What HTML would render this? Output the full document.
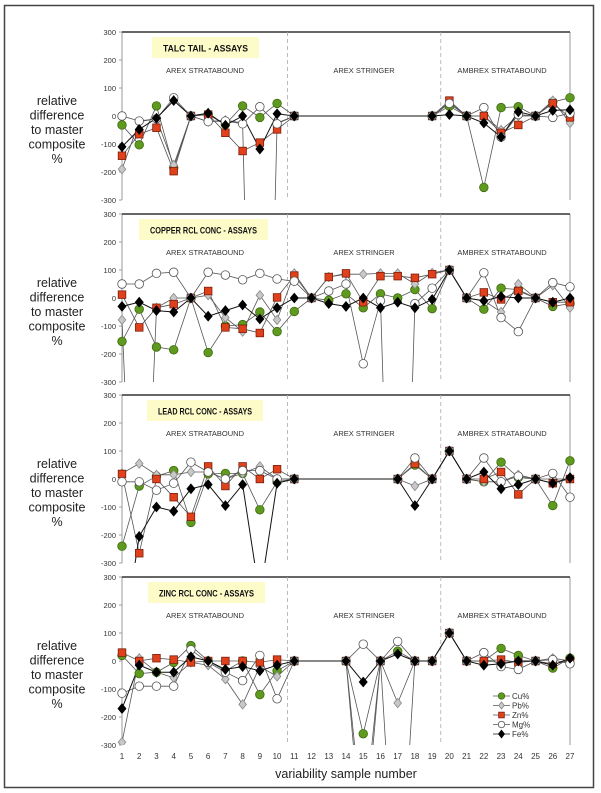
<!DOCTYPE html>
<html><head><meta charset="utf-8"><style>
html,body{margin:0;padding:0;background:#fff;width:601px;height:793px;overflow:hidden;font-family:"Liberation Sans",sans-serif}
svg{display:block;position:absolute;left:0;top:0}
</style></head><body>
<svg id="chart" width="601" height="793" viewBox="0 0 601 793" xmlns="http://www.w3.org/2000/svg" overflow="hidden">
<rect x="4.5" y="5.5" width="589" height="782" fill="#fff" stroke="#444" stroke-width="1.5"/>
</svg>
<script>
const xCats=[1,2,3,4,5,6,7,8,9,10,11,12,13,14,15,16,17,18,19,20,21,22,23,24,25,26,27];
const yTicks=[300,200,100,0,-100,-200,-300];
const seriesNames=["Cu%","Pb%","Zn%","Mg%","Fe%"];
const panelTitles=["TALC TAIL - ASSAYS","COPPER RCL CONC - ASSAYS","LEAD RCL CONC - ASSAYS","ZINC RCL CONC - ASSAYS"];
const regionLabels=["AREX STRATABOUND","AREX STRINGER","AMBREX STRATABOUND"];
const N=null;
// panel 1 talc tail
const p1Cu=[-32,-103,36,-185,0,5,-30,36,-5,45,0,N,N,N,N,N,N,N,0,35,0,-255,30,33,0,50,65];
const p1Pb=[-190,-20,-10,-175,0,-20,-15,-25,-2500,-25,0,N,N,N,N,N,N,N,0,50,0,0,-50,0,0,55,-25];
const p1Zn=[-142,-65,-42,-197,0,5,-60,-125,-95,-48,0,N,N,N,N,N,N,N,0,55,0,0,-60,-32,0,45,-5];
const p1Mg=[0,-18,-10,65,0,-20,-18,-28,33,-28,0,N,N,N,N,N,N,N,0,45,0,30,-75,5,0,-5,10];
const p1Fe=[-110,-48,-8,55,0,10,-33,0,-118,8,0,N,N,N,N,N,N,N,0,5,0,-25,-75,15,0,20,22];
// panel 2 copper conc
const p2Cu=[-155,-40,-175,-185,0,-195,-100,-95,-50,-120,-48,0,-8,15,-35,15,0,30,-38,100,0,-40,35,30,0,-30,-20];
const p2Pb=[-78,-1500,-35,0,0,10,-70,-120,10,-78,88,0,75,85,85,88,88,50,90,100,0,-10,-50,50,0,45,-35];
const p2Zn=[12,-105,-35,-22,0,25,-105,-110,-125,2,80,0,75,88,-15,78,78,72,85,100,0,20,-5,25,0,-15,-15];
const p2Mg=[50,50,88,92,0,92,82,65,88,68,60,0,25,50,-235,-10,-2000,-20,35,100,0,90,-70,-120,0,55,40];
const p2Fe=[-30,-15,-45,-50,0,-65,-45,-25,-75,-35,0,0,-20,-30,0,-35,-15,-35,-5,100,0,-10,5,0,0,-15,0];
// panel 3 lead conc
const p3Cu=[-240,-25,10,30,-155,18,20,20,-110,-10,0,N,N,N,N,N,0,50,0,100,0,-10,60,5,0,-95,65];
const p3Pb=[20,55,15,15,25,25,0,20,45,0,0,N,N,N,N,N,0,-25,0,100,0,-10,-10,15,0,0,0];
const p3Zn=[18,-265,0,-65,-135,45,-25,45,0,35,0,N,N,N,N,N,0,55,0,100,0,0,25,-55,0,-15,0];
const p3Mg=[-10,-10,-40,-15,60,25,0,30,30,0,0,N,N,N,N,N,0,75,0,100,0,75,-10,10,0,20,-65];
const p3Fe=[-600,-205,-100,-115,-35,-20,-95,-20,-420,-15,0,N,N,N,N,N,0,-95,0,100,0,25,-35,-20,0,-15,5];
// panel 4 zinc conc
const p4Cu=[20,-45,-40,-5,55,0,-35,0,-120,-35,0,N,N,0,-260,0,35,0,0,100,0,0,45,20,0,-25,10];
const p4Pb=[-290,10,-40,-60,-5,-15,-65,-155,-20,-55,0,N,N,0,-700,0,-150,0,0,100,0,0,-5,0,0,10,0];
const p4Zn=[30,0,10,5,-5,0,0,0,-5,5,0,N,N,0,-600,0,-1000,0,0,100,0,0,5,-5,0,-10,0];
const p4Mg=[-115,-90,-90,-90,40,-5,-40,-70,20,-135,0,N,N,0,60,0,70,0,0,100,0,30,-20,-30,0,5,-10];
const p4Fe=[-170,-15,-40,-40,15,0,-30,-20,-35,-15,0,N,N,0,-75,0,25,0,0,100,0,-15,-10,0,0,-15,10];
const panelsData=[[p1Cu,p1Pb,p1Zn,p1Mg,p1Fe],[p2Cu,p2Pb,p2Zn,p2Mg,p2Fe],[p3Cu,p3Pb,p3Zn,p3Mg,p3Fe],[p4Cu,p4Pb,p4Zn,p4Mg,p4Fe]];

const NS="http://www.w3.org/2000/svg";
const svg=document.getElementById('chart');
const X0=122,X1=570,PH=168;
const panelTops=[32,214,395,577];
const boxes=[[152,107],[139,129],[147,116],[148,117]];
const xs=v=>X0+(v-1)*(X1-X0)/26;
function mk(tag,attrs,parent){const e=document.createElementNS(NS,tag);for(const k in attrs)e.setAttribute(k,attrs[k]);(parent||svg).appendChild(e);return e;}
const mstyle=[{t:'c',f:'#5e9a1e',s:'#3d6a10',r:4.3},{t:'d',f:'#c8c8c8',s:'#888',r:3.8},{t:'s',f:'#e0401a',s:'#7a2010',r:3.8},{t:'c',f:'#fff',s:'#555',r:4.3},{t:'d',f:'#000',s:'#000',r:4}];
function marker(g,x,y,st){
  let e;
  if(st.t==='c')e=mk('circle',{cx:x,cy:y,r:st.r,fill:st.f,stroke:st.s,'stroke-width':0.8},g);
  else if(st.t==='s')e=mk('rect',{x:x-st.r,y:y-st.r,width:2*st.r,height:2*st.r,fill:st.f,stroke:st.s,'stroke-width':0.8},g);
  else e=mk('path',{d:`M${x},${y-st.r-0.8}L${x+st.r},${y}L${x},${y+st.r+0.8}L${x-st.r},${y}Z`,fill:st.f,stroke:st.s,'stroke-width':0.8},g);
  return e;
}
panelTops.forEach((top,pi)=>{
  const ys=v=>top+(300-v)*PH/600;
  const pg=mk('g',{});
  
  
  const yl=mk('text',{x:57,y:ys(0)-11,'text-anchor':'middle','font-size':'12.5',fill:'#222'},pg);
  
  
  ['relative','difference','to master','composite','%'].forEach((t,i)=>{const ts=mk('tspan',{x:57,dy:i?14.5:0},yl);ts.textContent=t;});
  yTicks.forEach(v=>{
    const t=mk('text',{x:116,y:ys(v)+3,'text-anchor':'end','font-size':'7.5',fill:'#333'},pg);
    
    
    t.textContent=v;
    mk('line',{x1:119,x2:122,y1:ys(v),y2:ys(v),stroke:'#888','stroke-width':0.8},pg);
  });
  mk('line',{x1:X0,x2:X0,y1:top,y2:top+PH,stroke:'#999','stroke-width':1},pg);
  mk('line',{x1:X1,x2:X1,y1:top,y2:top+PH,stroke:'#999','stroke-width':1},pg);
  mk('line',{x1:X0,x2:X1,y1:top,y2:top,stroke:'#333','stroke-width':1.5},pg);
  [10.6,19.5].forEach(d=>mk('line',{x1:xs(d),x2:xs(d),y1:top,y2:top+PH,stroke:'#aaa','stroke-width':0.8,'stroke-dasharray':'4,3'},pg));
  const [bx,bw]=boxes[pi];
  const tb=mk('rect',{x:bx,y:top+5,width:bw,height:21,fill:'#fdfbc8'},pg);
  
  
  const tt=mk('text',{x:bx+11,y:top+19.5,'font-size':'9.5','font-weight':'bold',fill:'#111',textLength:bw-22,lengthAdjust:'spacingAndGlyphs'},pg);
  
  
  tt.textContent=panelTitles[pi];
  [[205,0],[364,1],[502,2]].forEach(([x,i])=>{
    const r=mk('text',{x:x,y:ys(0)-43,'text-anchor':'middle','font-size':'7.5',fill:'#333'},pg);
    
    
    r.textContent=regionLabels[i];
  });
  const cp=mk('clipPath',{id:'cp'+pi},pg);
  mk('rect',{x:X0-8,y:top,width:X1-X0+16,height:PH},cp);
  const dg=mk('g',{'clip-path':`url(#cp${pi})`},pg);
  const data=panelsData[pi];
  data.forEach((arr,si)=>{
    let d='';
    arr.forEach((v,i)=>{if(v===null)return;d+=(d?'L':'M')+xs(xCats[i]).toFixed(1)+','+ys(v).toFixed(1);});
    const p=mk('path',{d:d,fill:'none',stroke:si===4?'#111':'#555','stroke-width':si===4?1:0.8},dg);
    
    
  });
  data.forEach((arr,si)=>{
    arr.forEach((v,i)=>{
      if(v===null||v<-300||v>300)return;
      const m=marker(dg,xs(xCats[i]),ys(v),mstyle[si]);
      
      
    });
  });
});
const bottom=panelTops[3]+PH;
xCats.forEach(c=>{
  const t=mk('text',{x:xs(c),y:bottom+14,'text-anchor':'middle','font-size':'8',fill:'#333'});
  
  
  t.textContent=c;
});
const xt=mk('text',{x:346,y:778,'text-anchor':'middle','font-size':'12.5',fill:'#222'});


xt.textContent='variability  sample number';
seriesNames.forEach((n,i)=>{
  const y=696+i*9.5;
  const lg=mk('g',{});
  
  
  mk('line',{x1:493,x2:510,y1:y,y2:y,stroke:i===4?'#111':'#555','stroke-width':0.8},lg);
  const st=Object.assign({},mstyle[i],{r:mstyle[i].r*0.75});
  marker(lg,501.5,y,st);
  const t=mk('text',{x:512,y:y+3,'font-size':'8',fill:'#333'},lg);
  t.textContent=n;
});
</script>
</body></html>
